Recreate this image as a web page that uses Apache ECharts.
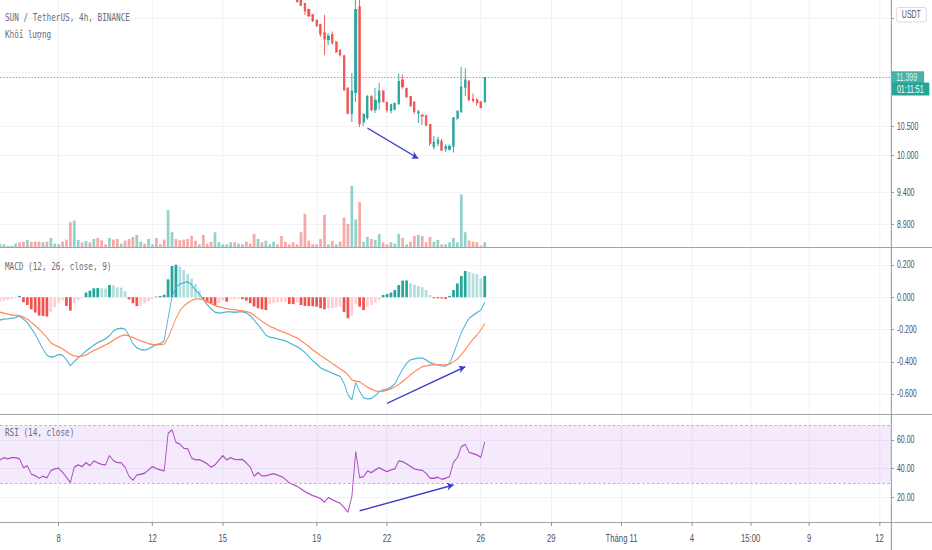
<!DOCTYPE html>
<html><head><meta charset="utf-8">
<script src="https://cdn.jsdelivr.net/npm/echarts@6/dist/echarts.min.js"></script>
<style>
html,body{margin:0;padding:0;background:#fff;overflow:hidden}
#wrap{position:absolute;left:0;top:0;width:932px;height:550px;overflow:hidden;background:#fff}
#chart{width:1331px;height:550px;transform:scale(0.70023,1);transform-origin:0 0}
</style></head>
<body><div id="wrap"><div id="chart"></div></div>
<script>
// ---------------- DATA ----------------
const firstBarTime = Date.UTC(2020, 9, 5, 15); // first 4h bar (local time UTC+7)
const slotCount = 229;                          // visible 4h slots incl. future space
const xTickTimes = ['2020-10-08 03:00','2020-10-12 03:00','2020-10-15 03:00','2020-10-19 03:00','2020-10-22 03:00','2020-10-26 03:00','2020-10-29 03:00','2020-11-01 03:00','2020-11-04 03:00','2020-11-06 15:00','2020-11-09 03:00','2020-11-12 03:00'];
const xTickTexts = ['8','12','15','19','22','26','29','Tháng 11','4','15:00','9','12'];

const priceTicks = [8.9, 9.4, 10.0, 10.5, 11.5, 12.6];
const priceLabelTicks = [8.9, 9.4, 10.0, 10.5];   // 11.5 / 12.6 labels sit under the price & currency boxes
const priceMin = 8.572, priceMax = 12.99;
const macdTicks = [-0.6, -0.4, -0.2, 0, 0.2];
const macdMin = -0.724, macdMax = 0.3116;
const rsiTicks = [20, 40, 60];
const rsiMin = 2.76, rsiMax = 78.15;
const rsiUpper = 70, rsiLower = 30;

const firstCandleTime = '2020-10-18 07:00';
const candleOpen  = [13.05,12.99,12.91,12.78,12.67,12.55,12.46,12.29,12.15,12.25,12.10,11.93,11.82,11.20,10.74,11.12,12.84,10.58,10.66,11.04,10.80,10.94,11.14,10.93,10.79,10.81,10.91,11.35,11.19,11.04,10.94,10.74,10.70,10.69,10.53,10.15,10.21,10.24,10.11,10.11,10.16,10.65,10.77,11.22,11.33,10.99,10.98,10.94,10.95];
const candleClose = [12.96,12.88,12.76,12.65,12.55,12.44,12.27,12.17,12.22,12.09,11.91,11.85,11.17,10.74,11.14,12.78,10.55,10.71,11.04,10.80,10.97,11.14,10.95,10.80,10.89,10.91,11.32,11.23,11.04,10.87,10.77,10.76,10.69,10.53,10.21,10.22,10.26,10.09,10.15,10.15,10.65,10.77,11.22,11.35,10.99,10.97,10.93,10.84,11.399];
const candleLow   = [12.93,12.86,12.67,12.63,12.52,12.42,12.21,11.84,12.04,12.05,11.88,11.81,11.15,10.72,10.58,10.94,10.49,10.51,10.62,10.77,10.74,10.80,10.94,10.75,10.73,10.79,10.89,11.19,11.02,10.86,10.72,10.56,10.53,10.51,10.16,10.10,10.16,10.08,10.06,10.08,10.05,10.62,10.74,11.05,10.95,10.93,10.87,10.83,10.93];
const candleHigh  = [13.10,13.02,12.93,12.80,12.69,12.57,12.48,12.67,12.29,12.32,12.13,11.96,11.85,11.21,11.49,13.10,13.05,10.74,11.07,11.07,11.20,11.30,11.17,10.95,10.91,10.93,11.48,11.46,11.21,11.05,10.95,10.80,10.71,10.71,10.54,10.33,10.32,10.28,10.19,10.19,10.67,10.79,11.61,11.58,11.35,11.10,11.01,10.96,11.40];

const volume = [10,8,4,4,10,14,16,21,16,16,16,14,16,27,10,8,16,22,74,79,21,14,18,14,24,27,20,8,27,22,24,10,19,24,30,36,16,10,24,8,27,8,22,110,44,24,20,22,24,33,19,8,36,10,16,44,14,8,8,14,14,10,8,16,10,39,24,14,19,8,16,8,33,16,8,14,8,44,99,19,8,8,24,96,8,19,8,16,88,69,182,82,134,16,30,24,21,39,14,8,14,10,39,27,8,16,33,36,33,14,30,16,21,8,8,14,27,14,157,44,19,16,14,4,14];
const volumeDir = [1,1,-1,1,1,-1,-1,1,-1,-1, -1,1,-1,1,1,1,-1,-1,-1,1, 1,-1,1,-1,1,-1,-1,-1,1,-1, -1,1,-1,-1,-1,1,1,-1,1,1, -1,-1,-1,1,1,-1,-1,-1,-1,-1, -1,1,-1,-1,-1,1,1,1,1,1, -1,1,1,-1,-1,-1,1,-1,1,1, 1,-1,-1,-1,-1,-1,-1,-1,-1,-1, -1,-1,-1,-1,1,-1,1,-1,-1,-1, 1,1,-1,1,1,-1,1,1,-1,-1, 1,1,1,-1,1,-1,-1,1,-1,-1, -1,1,1,-1,1,1,1,1,1,1, -1,-1,-1,-1,1];

const macdLine = [-0.141,-0.136,-0.134,-0.130,-0.126,-0.116,-0.136,-0.157,-0.192,-0.229,-0.275,-0.322,-0.360,-0.372,-0.367,-0.355,-0.359,-0.388,-0.425,-0.399,-0.376,-0.355,-0.333,-0.316,-0.297,-0.281,-0.271,-0.258,-0.238,-0.209,-0.196,-0.192,-0.198,-0.238,-0.287,-0.314,-0.324,-0.328,-0.320,-0.306,-0.293,-0.287,-0.269,-0.130,0.004,0.062,0.082,0.091,0.095,0.078,0.045,0.020,-0.015,-0.046,-0.072,-0.093,-0.099,-0.095,-0.091,-0.091,-0.093,-0.091,-0.091,-0.097,-0.114,-0.141,-0.171,-0.202,-0.235,-0.248,-0.252,-0.258,-0.264,-0.271,-0.283,-0.295,-0.306,-0.322,-0.343,-0.368,-0.394,-0.413,-0.438,-0.450,-0.460,-0.471,-0.481,-0.491,-0.533,-0.605,-0.636,-0.529,-0.584,-0.624,-0.630,-0.628,-0.611,-0.586,-0.574,-0.570,-0.557,-0.537,-0.491,-0.446,-0.409,-0.388,-0.382,-0.378,-0.378,-0.388,-0.405,-0.415,-0.419,-0.425,-0.427,-0.409,-0.351,-0.285,-0.219,-0.171,-0.130,-0.112,-0.095,-0.079,-0.031];
const signalLine = [-0.093,-0.099,-0.105,-0.110,-0.112,-0.114,-0.124,-0.136,-0.155,-0.176,-0.198,-0.223,-0.250,-0.281,-0.297,-0.308,-0.320,-0.337,-0.353,-0.363,-0.368,-0.365,-0.359,-0.343,-0.330,-0.320,-0.308,-0.295,-0.283,-0.266,-0.252,-0.240,-0.233,-0.240,-0.250,-0.260,-0.271,-0.279,-0.287,-0.293,-0.295,-0.293,-0.291,-0.250,-0.192,-0.132,-0.085,-0.055,-0.035,-0.020,-0.010,-0.010,-0.015,-0.027,-0.039,-0.052,-0.058,-0.064,-0.070,-0.075,-0.077,-0.081,-0.083,-0.089,-0.095,-0.112,-0.130,-0.149,-0.165,-0.180,-0.190,-0.202,-0.211,-0.221,-0.231,-0.242,-0.252,-0.269,-0.287,-0.306,-0.326,-0.343,-0.361,-0.378,-0.394,-0.411,-0.427,-0.444,-0.460,-0.481,-0.512,-0.520,-0.524,-0.541,-0.557,-0.570,-0.580,-0.584,-0.584,-0.576,-0.568,-0.555,-0.541,-0.522,-0.502,-0.481,-0.462,-0.446,-0.431,-0.425,-0.421,-0.419,-0.419,-0.419,-0.419,-0.415,-0.400,-0.384,-0.355,-0.326,-0.291,-0.260,-0.235,-0.202,-0.163];
const macdHist = [-0.027,-0.021,-0.017,-0.011,-0.004,0.008,-0.031,-0.048,-0.075,-0.095,-0.114,-0.116,-0.120,-0.091,-0.062,-0.037,-0.021,-0.054,-0.083,-0.037,-0.017,-0.006,0.029,0.041,0.055,0.057,0.055,0.054,0.076,0.074,0.062,0.060,0.037,-0.013,-0.037,-0.055,-0.053,-0.037,-0.025,-0.011,0.004,0.008,0.016,0.111,0.194,0.202,0.190,0.169,0.144,0.115,0.082,0.041,-0.017,-0.033,-0.041,-0.048,-0.036,-0.022,-0.028,-0.012,-0.012,-0.011,-0.012,-0.021,-0.037,-0.058,-0.068,-0.075,-0.079,-0.041,-0.037,-0.031,-0.030,-0.028,-0.042,-0.043,-0.033,-0.048,-0.054,-0.055,-0.056,-0.058,-0.068,-0.075,-0.068,-0.067,-0.062,-0.058,-0.091,-0.130,-0.116,-0.041,-0.058,-0.079,-0.058,-0.048,-0.033,-0.017,0.014,0.020,0.029,0.045,0.076,0.103,0.104,0.086,0.078,0.070,0.062,0.045,0.014,-0.006,-0.007,-0.008,-0.011,0.008,0.045,0.086,0.132,0.163,0.157,0.148,0.144,0.117,0.132];

const rsiLine = [46.1,47.7,46.8,47.7,47.7,46.8,40.7,41.9,36.1,35.1,33.3,34.7,33.5,38.6,39.8,40.3,37.5,34.0,30.3,41.0,42.6,41.4,44.2,42.1,45.4,44.0,43.0,42.6,49.1,45.6,44.2,44.2,41.0,34.7,31.9,35.6,36.1,36.8,39.1,41.4,40.0,39.1,38.4,64.6,67.2,58.4,57.2,54.2,54.0,47.5,46.1,46.3,44.9,43.3,41.0,42.6,46.1,49.1,46.1,47.7,46.5,46.3,46.5,44.0,41.2,34.7,37.2,34.9,34.9,35.8,36.5,35.4,34.5,32.6,30.0,28.9,27.7,25.9,24.0,22.6,21.2,20.3,19.1,16.6,19.8,18.4,17.0,15.9,12.9,9.6,20.5,51.9,33.8,34.4,38.4,37.2,39.1,40.7,39.1,37.9,39.1,39.8,45.4,44.9,43.3,41.6,39.8,39.1,38.9,36.8,33.3,33.3,34.0,32.6,33.3,34.5,44.4,47.7,55.4,57.0,51.4,50.5,49.6,47.9,58.8];

// drawn trend arrows: [startTime, startValue, endTime, endValue]
const priceArrow = ['2020-10-21 07:00', 10.47, '2020-10-23 11:00', 9.95];
const macdArrow  = ['2020-10-22 03:00', -0.658, '2020-10-25 11:00', -0.431];
const rsiArrow   = ['2020-10-20 23:00', 10.6, '2020-10-24 23:00', 28.6];

const countdownText = '01:11:51';
const currencyText = 'USDT';

// ---------------- BUILD ----------------
function fmtTime(ms){const d=new Date(ms);const p=n=>String(n).padStart(2,'0');return d.getUTCFullYear()+'-'+p(d.getUTCMonth()+1)+'-'+p(d.getUTCDate())+' '+p(d.getUTCHours())+':00';}
const categories=[];for(let i=0;i<slotCount;i++)categories.push(fmtTime(firstBarTime+i*4*3600e3));
const firstCat=categories[0], lastCat=categories[categories.length-1];
const tickMap={};xTickTimes.forEach((t,i)=>tickMap[t]=xTickTexts[i]);
const isTick=(idx,val)=>Object.prototype.hasOwnProperty.call(tickMap,val===undefined?categories[idx]:val);

const UP='#26a69a', DN='#ef5350';
const firstIdx=categories.indexOf(firstCandleTime);
const candleData=volume.map((v,i)=>{const k=i-firstIdx;return k>=0?[candleOpen[k],candleClose[k],candleLow[k],candleHigh[k]]:['-','-','-','-'];});
const lastClose=candleClose[candleClose.length-1];
const volumeData=volume.map((v,i)=>({value:v,itemStyle:{color:volumeDir[i]>0?'rgba(38,166,154,0.5)':'rgba(239,83,80,0.5)'}}));
const histData=macdHist.map((v,i)=>{const p=i>0?macdHist[i-1]:v;let c;if(v>=0)c=v>=p?'#26a69a':'#b2dfdb';else c=v<p?'#ef5350':'#ffcdd2';return {value:v,itemStyle:{color:c}};});
const maxVol=Math.max(...volume);
const volumeAxisMax=maxVol*247/61;

const AX_FONT="'Liberation Sans', Arial, sans-serif";
const LBL='#4c5060', GRIDC='#eff1f6', TICKC='#8f929b', ARROW='#3c3cc8';
const gridW=1272.9, totalW=1331;

function xAxisFor(gi,show){
  return {type:'category',gridIndex:gi,data:categories,boundaryGap:false,
    axisLine:{show:false},
    axisTick:{show:show,interval:isTick,length:4,lineStyle:{color:TICKC,width:1.4}},
    axisLabel:{show:show,interval:isTick,formatter:v=>tickMap[v]||'',color:LBL,fontSize:11,margin:10,fontFamily:AX_FONT},
    splitLine:{show:true,interval:isTick,lineStyle:{color:GRIDC,width:1.4}}};
}
function rightAxis(gi,min,max,ticks,labelTicks,fmt){
  return {type:'value',gridIndex:gi,position:'right',min:min,max:max,
    axisLine:{show:false},
    axisTick:{show:true,customValues:ticks,length:4,lineStyle:{color:TICKC,width:1}},
    axisLabel:{show:true,customValues:labelTicks,formatter:fmt,color:LBL,fontSize:10,margin:8,fontFamily:AX_FONT},
    splitLine:{show:true,lineStyle:{color:GRIDC,width:1}}};
}
function arrowLine(a){
  return [{coord:[a[0],a[1]],symbol:'none',lineStyle:{color:ARROW,width:1.4,type:'solid'},label:{show:false}},
          {coord:[a[2],a[3]],symbol:'arrow',symbolSize:[6,9]}];
}
function levelLine(v,lineStyle,label){
  return [{coord:[firstCat,v],symbol:'none',lineStyle:lineStyle,label:label||{show:false}},
          {coord:[lastCat,v],symbol:'none'}];
}
const legendText=(t,y)=>({type:'text',x:7,y:y,z:100,silent:true,style:{text:t,fill:'#6a6d78',font:"11px 'DejaVu Sans Mono', monospace",verticalAlign:'middle',textVerticalAlign:'middle'}});
const hLine=y=>({type:'line',z:100,silent:true,shape:{x1:0,y1:y,x2:totalW,y2:y},style:{stroke:TICKC,lineWidth:1}});

const option={
  animation:false,
  backgroundColor:'#ffffff',
  grid:[
    {left:0,width:gridW,top:0,height:247,outerBoundsMode:'none'},
    {left:0,width:gridW,top:247,height:167,outerBoundsMode:'none'},
    {left:0,width:gridW,top:414,height:108,outerBoundsMode:'none'}
  ],
  xAxis:[xAxisFor(0,false),xAxisFor(1,false),xAxisFor(2,true)],
  yAxis:[
    {type:'log',gridIndex:0,min:priceMin,max:priceMax,show:false,splitLine:{show:false}},
    rightAxis(0,Math.log10(priceMin),Math.log10(priceMax),priceTicks.map(Math.log10),priceLabelTicks.map(Math.log10),v=>Math.pow(10,v).toFixed(3)),
    {type:'value',gridIndex:0,min:0,max:volumeAxisMax,show:false,splitLine:{show:false}},
    rightAxis(1,macdMin,macdMax,macdTicks,macdTicks,v=>v.toFixed(3)),
    rightAxis(2,rsiMin,rsiMax,rsiTicks,rsiTicks,v=>v.toFixed(2))
  ],
  series:[
    {name:'Khối lượng',type:'bar',xAxisIndex:0,yAxisIndex:2,data:volumeData,barWidth:3.9,silent:true,z:1},
    {name:'SUN / TetherUS',type:'candlestick',xAxisIndex:0,yAxisIndex:0,data:candleData,barWidth:2.6,silent:true,z:3,
      itemStyle:{color:UP,color0:DN,borderColor:UP,borderColor0:DN,borderWidth:1.3},
      markLine:{silent:true,animation:false,symbol:['none','none'],data:[
        levelLine(lastClose,{color:'#2bb3a6',type:[2,2.5],width:1.2,opacity:0.85},
          {show:true,position:'end',distance:0,formatter:lastClose.toFixed(3),color:'#ffffff',backgroundColor:'#26a69a',padding:[2,10,1,7],fontSize:10,fontFamily:AX_FONT}),
        arrowLine(priceArrow)
      ]}},
    {name:'Histogram',type:'bar',xAxisIndex:1,yAxisIndex:3,data:histData,barWidth:3.9,silent:true},
    {name:'MACD',type:'line',xAxisIndex:1,yAxisIndex:3,data:macdLine,showSymbol:false,silent:true,lineStyle:{color:'#4fb3d6',width:1.3},
      markLine:{silent:true,animation:false,symbol:['none','none'],data:[arrowLine(macdArrow)]}},
    {name:'Signal',type:'line',xAxisIndex:1,yAxisIndex:3,data:signalLine,showSymbol:false,silent:true,lineStyle:{color:'#ff8a55',width:1.3}},
    {name:'RSI',type:'line',xAxisIndex:2,yAxisIndex:4,data:rsiLine,showSymbol:false,silent:true,lineStyle:{color:'#ab4fbf',width:1.3},
      markArea:{silent:true,itemStyle:{color:'rgba(170,90,230,0.13)'},data:[[{yAxis:rsiLower},{yAxis:rsiUpper}]]},
      markLine:{silent:true,animation:false,symbol:['none','none'],data:[
        levelLine(rsiUpper,{color:'#a9acb5',type:[4,3],width:1}),
        levelLine(rsiLower,{color:'#a9acb5',type:[4,3],width:1}),
        arrowLine(rsiArrow)
      ]}}
  ],
  graphic:[
    hLine(247.5),hLine(414.5),hLine(522.5),
    {type:'line',z:100,silent:true,shape:{x1:gridW,y1:0,x2:gridW,y2:550},style:{stroke:TICKC,lineWidth:1.4}},
    legendText('SUN / TetherUS, 4h, BINANCE',17),
    legendText('Khối lượng',34),
    legendText('MACD (12, 26, close, 9)',266),
    legendText('RSI (14, close)',432),
    {type:'group',z:101,children:[
      {type:'rect',z:101,silent:true,shape:{x:gridW+0.8,y:82.5,width:53.5,height:13},style:{fill:'#26a69a'}},
      {type:'text',z:102,silent:true,x:gridW+8,y:89.2,style:{text:countdownText,fill:'#ffffff',font:"10px 'Liberation Sans', Arial, sans-serif",verticalAlign:'middle',textVerticalAlign:'middle'}}
    ]},
    {type:'group',z:101,children:[
      {type:'rect',z:101,silent:true,shape:{x:1280,y:7.5,width:43,height:14.5,r:3},style:{fill:'#ffffff',stroke:'#d1d4dc',lineWidth:1}},
      {type:'text',z:102,silent:true,x:1301.5,y:15,style:{text:currencyText,fill:'#50535e',font:"10px 'Liberation Sans', Arial, sans-serif",align:'center',textAlign:'center',verticalAlign:'middle',textVerticalAlign:'middle'}}
    ]}
  ]
};
const chart=echarts.init(document.getElementById('chart'),null,{renderer:'svg',width:1331,height:550});
chart.setOption(option);
</script></body></html>
